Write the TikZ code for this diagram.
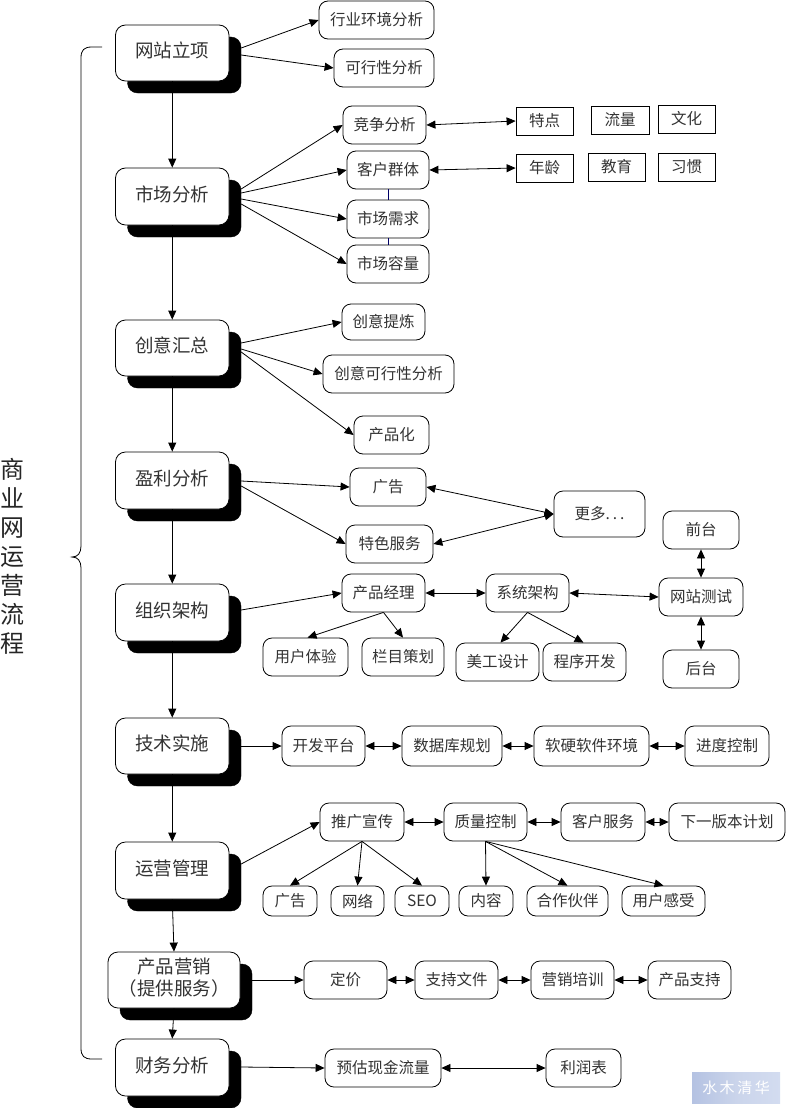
\documentclass[tikz,border=0pt]{standalone}
\usepackage{fontspec}
\setmainfont{Noto Sans CJK SC}
\usetikzlibrary{arrows.meta,shapes.misc}
\definecolor{markblue}{HTML}{B4C2E2}
\definecolor{markpale}{HTML}{D3DCF0}
\tikzset{
  mainbox/.style={draw=black,line width=0.8pt,fill=white,rounded corners=10pt,inner sep=0pt,text=black!80,font=\fontsize{18.5}{21}\selectfont,align=center},
  shadowbox/.style={draw=black,fill=black,rounded corners=10pt,inner sep=0pt},
  subbox/.style={draw=black,line width=0.8pt,fill=white,rounded corners=9pt,inner sep=0pt,text=black!80,font=\fontsize{15.5}{18}\selectfont},
  sqbox/.style={draw=black,line width=0.8pt,fill=white,inner sep=0pt,text=black!80,font=\fontsize{15.5}{18}\selectfont},
  arr/.style={line width=0.8pt,-{Triangle[length=9pt,width=8pt]}},
  dbl/.style={line width=0.8pt,{Triangle[length=9pt,width=8pt]}-{Triangle[length=9pt,width=8pt]}},
  plainlink/.style={line width=0.6pt,draw=blue!40!black},
}
% name, x1, x2, y1, y2, text
\newcommand{\mybox}[7][subbox]{\node[#1,minimum width=#4pt-#3pt,minimum height=#6pt-#5pt] (#2) at ({(#3+#4)/2},{(#5+#6)/2}) {#7};}
\newcommand{\mymain}[7]{%
  \node[shadowbox,minimum width=#4pt-#3pt,minimum height=#6pt-#5pt] (#1) at ({(#3+#4)/2+12},{(#5+#6)/2+12}) {};
  \node[mainbox,minimum width=#4pt-#3pt,minimum height=#6pt-#5pt] (#2) at ({(#3+#4)/2},{(#5+#6)/2}) {\raisebox{1pt}{\begin{tabular}{@{}c@{}}#7\end{tabular}}};}
\begin{document}
\begin{tikzpicture}[x=1pt,y=-1pt]
\useasboundingbox (0,0) rectangle (785,1108);
% main boxes
\mymain{s1}{m1}{115.5}{229}{25}{81}{网站立项}
\mymain{s2}{m2}{115.5}{229}{168}{225}{市场分析}
\mymain{s3}{m3}{115.5}{229}{320}{376}{创意汇总}
\mymain{s4}{m4}{115.5}{229}{452}{509}{盈利分析}
\mymain{s5}{m5}{115.5}{229}{584}{641}{组织架构}
\mymain{s6}{m6}{115.5}{229}{718}{774}{技术实施}
\mymain{s7}{m7}{115.5}{229}{842}{899}{运营管理}
\mymain{s8}{m8}{108}{240}{952}{1008}{产品营销\\（提供服务）}
\mymain{s9}{m9}{115.5}{229}{1039}{1096}{财务分析}
% sub boxes
\mybox{a1}{319}{434}{1}{39}{行业环境分析}
\mybox{a2}{334}{434}{49}{87}{可行性分析}
\mybox{b1}{343}{426}{106}{144}{竞争分析}
\mybox{b2}{347}{429}{151}{189}{客户群体}
\mybox{b3}{347}{429}{200}{238}{市场需求}
\mybox{b4}{347}{429}{245}{283}{市场容量}
\mybox[sqbox]{t1}{516}{573}{107}{135}{特点}
\mybox[sqbox]{t2}{591}{649}{106}{134}{流量}
\mybox[sqbox]{t3}{658}{715}{105}{133}{文化}
\mybox[sqbox]{t4}{516}{573}{154}{182}{年龄}
\mybox[sqbox]{t5}{588}{645}{153}{181}{教育}
\mybox[sqbox]{t6}{658}{715}{153}{181}{习惯}
\mybox{c1}{342}{425}{304}{340}{创意提炼}
\mybox{c2}{323}{454}{355}{393}{创意可行性分析}
\mybox{c3}{354}{429}{416}{454}{产品化}
\mybox{d1}{350}{426}{468}{506}{广告}
\mybox{d2}{346}{433}{525}{563}{特色服务}
\mybox{d3}{554}{645}{491}{537}{更多.\hspace{3pt}.\hspace{3pt}.}
\mybox{e1}{342}{425}{574}{612}{产品经理}
\mybox{e2}{486}{569}{574}{612}{系统架构}
\mybox{e3}{659}{743}{578}{616}{网站测试}
\mybox{e4}{663}{739}{511}{549}{前台}
\mybox{e5}{663}{739}{650}{688}{后台}
\mybox{e6}{263}{348}{638}{676}{用户体验}
\mybox{e7}{362}{444}{638}{676}{栏目策划}
\mybox{e8}{456}{539}{643}{681}{美工设计}
\mybox{e9}{543}{626}{643}{681}{程序开发}
\mybox{f1}{282}{365}{726}{766}{开发平台}
\mybox{f2}{402}{502}{726}{766}{数据库规划}
\mybox{f3}{534}{649}{726}{766}{软硬软件环境}
\mybox{f4}{685}{769}{726}{766}{进度控制}
\mybox{g1}{320}{404}{803}{841}{推广宣传}
\mybox{g2}{444}{527}{803}{841}{质量控制}
\mybox{g3}{561}{645}{803}{841}{客户服务}
\mybox{g4}{669}{785}{803}{841}{下一版本计划}
\mybox{g5}{263}{317}{886}{916}{广告}
\mybox{g6}{331}{384}{886}{916}{网络}
\mybox{g7}{395}{449}{886}{916}{SEO}
\mybox{g8}{459}{513}{886}{916}{内容}
\mybox{g9}{527}{608}{886}{916}{合作伙伴}
\mybox{g10}{622}{705}{886}{916}{用户感受}
\mybox{h1}{304}{387}{961}{999}{定价}
\mybox{h2}{415}{498}{961}{999}{支持文件}
\mybox{h3}{531}{614}{961}{999}{营销培训}
\mybox{h4}{648}{731}{961}{999}{产品支持}
\mybox{i1}{325}{441}{1049}{1087}{预估现金流量}
\mybox{i2}{546}{621}{1049}{1087}{利润表}
% vertical main flow
\draw[arr] (m1.south) -- (m2.north);
\draw[arr] (m2.south) -- (m3.north);
\draw[arr] (m3.south) -- (m4.north);
\draw[arr] (m4.south) -- (m5.north);
\draw[arr] (m5.south) -- (m6.north);
\draw[arr] (m6.south) -- (m7.north);
\draw[arr] (m7.south) -- (m8.north);
\draw[arr] (m8.south) -- (m9.north);
% from main boxes
\draw[arr] ([yshift=17pt]s1.east) -- (a1.west);
\draw[arr] ([yshift=10pt]s1.east) -- (a2.west);
\draw[arr] ([yshift=19.5pt]s2.east) -- (b1.west);
\draw[arr] ([yshift=15.5pt]s2.east) -- (b2.west);
\draw[arr] ([yshift=9.5pt]s2.east) -- (b3.west);
\draw[arr] ([yshift=4.5pt]s2.east) -- (b4.west);
\draw[arr] ([yshift=17pt]s3.east) -- (c1.west);
\draw[arr] ([yshift=11pt]s3.east) -- (c2.west);
\draw[arr] ([yshift=8pt]s3.east) -- (c3.west);
\draw[arr] ([yshift=11.5pt]s4.east) -- (d1.west);
\draw[arr] ([yshift=6.5pt]s4.east) -- (d2.west);
\draw[arr] ([yshift=14.5pt]s5.east) -- (e1.west);
\draw[arr] ([yshift=12pt]s6.east) -- (f1.west);
\draw[arr] ([yshift=18.5pt]s7.east) -- (g1.west);
\draw[arr] ([yshift=12pt]s8.east) -- (h1.west);
\draw[arr] ([yshift=12.5pt]s9.east) -- (i1.west);
% market branch
\draw[dbl] (b1.east) -- (t1.west);
\draw[dbl] (b2.east) -- (t4.west);
\draw[plainlink] (b2.south) -- (b3.north);
\draw[plainlink] (b3.south) -- (b4.north);
% profit branch
\draw[dbl] (d1.east) -- (d3.west);
\draw[dbl] (d2.east) -- (d3.west);
% organisation branch
\draw[dbl] (e1.east) -- (e2.west);
\draw[dbl] (e2.east) -- (e3.west);
\draw[dbl] (e4.south) -- (e3.north);
\draw[dbl] (e5.north) -- (e3.south);
\draw[arr] (e1.south) -- ([xshift=2pt]e6.north);
\draw[arr] (e1.south) -- (e7.north);
\draw[arr] (e2.south) -- ([xshift=3pt]e8.north);
\draw[arr] (e2.south) -- ([xshift=-1pt]e9.north);
% chains
\draw[dbl] (f1.east) -- (f2.west);
\draw[dbl] (f2.east) -- (f3.west);
\draw[dbl] (f3.east) -- (f4.west);
\draw[dbl] (g1.east) -- (g2.west);
\draw[dbl] (g2.east) -- (g3.west);
\draw[dbl] (g3.east) -- (g4.west);
\draw[arr] (g1.south) -- (g5.north);
\draw[arr] (g1.south) -- (g6.north);
\draw[arr] (g1.south) -- (g7.north);
\draw[arr] (g2.south) -- (g8.north);
\draw[arr] (g2.south) -- (g9.north);
\draw[arr] (g2.south) -- (g10.north);
\draw[dbl] (h1.east) -- (h2.west);
\draw[dbl] (h2.east) -- (h3.west);
\draw[dbl] (h3.east) -- (h4.west);
\draw[dbl] (i1.east) -- (i2.west);
% brace
\coordinate (bt) at (102,47);
\coordinate (bb) at (102,1059);
\coordinate (bm) at (72,557);
\draw[line width=0.8pt] (bt) -- (92,47) .. controls (84,47) and (81,50) .. (81,58) -- (81,546) .. controls (81,553) and (78,557) .. (bm) .. controls (78,557) and (81,561) .. (81,568) -- (81,1048) .. controls (81,1056) and (84,1059) .. (92,1059) -- (bb);
% vertical title
\node[inner sep=0pt,align=center,text=black!85,font=\fontsize{24}{29}\selectfont] (title) at (12,556) {商\\业\\网\\运\\营\\流\\程};
% watermark
\node[inner sep=0pt,minimum width=88pt,minimum height=31pt,left color=markblue,right color=markpale,middle color=markblue!70,text=white,font=\fontsize{15}{17}\selectfont] (mark) at (736,1087.5) {水\,木\,清\,华};
\end{tikzpicture}
\end{document}
